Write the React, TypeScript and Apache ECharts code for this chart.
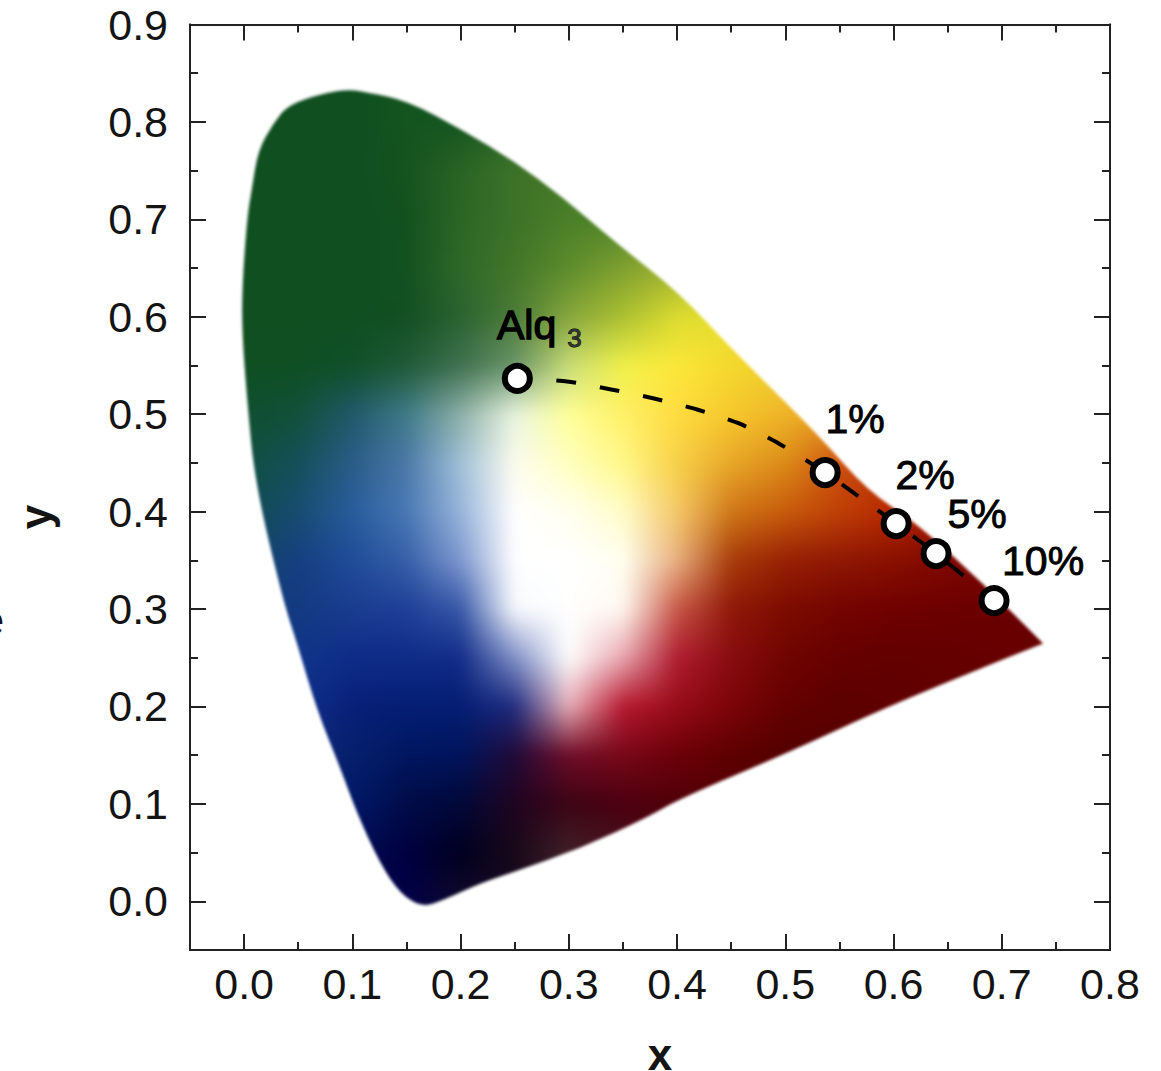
import React, { useEffect, useRef } from "react";
import * as echarts from "echarts";

const xTicks = [0, 0.1, 0.2, 0.3, 0.4, 0.5, 0.6, 0.7, 0.8];
const xMinorTicks = [0.05, 0.15, 0.25, 0.35, 0.45, 0.55, 0.65, 0.75];
const yTicks = [0, 0.1, 0.2, 0.3, 0.4, 0.5, 0.6, 0.7, 0.8, 0.9];
const yMinorTicks = [0.05, 0.15, 0.25, 0.35, 0.45, 0.55, 0.65, 0.75, 0.85];

// Markers
const pointNames = ["Alq3", "1%", "2%", "5%", "10%"];
const pointX = [0.2524, 0.5368, 0.6024, 0.6393, 0.6929];
const pointY = [0.5367, 0.4401, 0.3877, 0.3569, 0.3087];

// Dashed trend curve
const curveX = [0.2524, 0.2984, 0.3391, 0.3788, 0.4185, 0.4573, 0.4924, 0.5368, 0.6024, 0.6393, 0.6929];
const curveY = [0.5367, 0.5336, 0.5254, 0.5161, 0.5048, 0.4905, 0.471, 0.4401, 0.3877, 0.3569, 0.3087];

// Boundary of the colour region
const gamutX = [0.0915, 0.1136, 0.1506, 0.2024, 0.2486, 0.2947, 0.3409, 0.4028, 0.4518, 0.5294, 0.5756, 0.6218, 0.6827, 0.7382, 0.6984, 0.5904, 0.5072, 0.4028, 0.3723, 0.3104, 0.2485, 0.218, 0.1838, 0.1644, 0.1441, 0.1256, 0.1044, 0.0887, 0.0674, 0.049, 0.036, 0.0102, 0.0028, -0.0018, -0.0018, 0.0028, 0.0074, 0.0129, 0.0268, 0.0425];
const gamutY = [0.8344, 0.8303, 0.8221, 0.7913, 0.7605, 0.7225, 0.6783, 0.6239, 0.5654, 0.4802, 0.4217, 0.3878, 0.3262, 0.2646, 0.2471, 0.1978, 0.1547, 0.1054, 0.0859, 0.0541, 0.0295, 0.0182, 0.0007, -0.0064, 0.0079, 0.0387, 0.09, 0.1373, 0.1958, 0.2646, 0.3087, 0.4288, 0.514, 0.5828, 0.6301, 0.702, 0.7328, 0.7708, 0.7985, 0.82];
const gamutTipIndex = 13;

// Colours, one row per y, one column per x; "-" lies outside the region.
const colourX = [0, 0.05, 0.1, 0.15, 0.2, 0.25, 0.3, 0.35, 0.4, 0.45, 0.5, 0.55, 0.6, 0.65, 0.7, 0.75];
const colourY = [0.8, 0.75, 0.7, 0.65, 0.6, 0.55, 0.5, 0.45, 0.4, 0.35, 0.3, 0.25, 0.2, 0.15, 0.1, 0.05, 0];
const colourRows = [
  "#0f4f20 #0f4f20 #0f4f20 #14541f #155520 - - - - - - - - - - -",
  "#0f4f20 #0f4f20 #0f4f20 #15531f #2a6424 #3d7228 - - - - - - - - - -",
  "#0f4f20 #0f4f20 #0f4f20 #12511f #2c6626 #3c7228 #4b7f28 #4f8428 - - - - - - - -",
  "#0f4f20 #0f4f20 #0f4f20 #125120 #2e6828 #427628 #5d8c2c #7fa030 #a0b030 - - - - - - -",
  "#0f4f20 #0f4f20 #0f4f20 #124f22 #2a6230 #4c7c38 #86a63c #acc030 #dcdc30 #e8e030 - - - - - -",
  "#0f4f22 #0f4f22 #10502a #1f5a38 #3f7050 #6a9568 #c8dc78 #f0f048 #fce838 #f4d82c #eccf30 - - - - -",
  "#0f4f30 #12503a #20586a #3f7a88 #8db0a8 #e8f4e0 #ffff98 #fff068 #fedc40 #f6c82c #eeb428 #e8a020 - - - -",
  "#104f40 #144f5a #2a5c88 #4a78a8 #a0c0d8 #fcfcee #ffffc0 #fff888 #f8d048 #e8a828 #dc8c18 #cc5010 #b83808 - - -",
  "#104a50 #174c70 #285c9c #4878b4 #98b4da #ffffff #fffff0 #fffcc8 #f4c868 #d07818 #c85c0c #c04006 #b82800 #a01800 - -",
  "- #153f80 #1f4c98 #3660a8 #7e98d0 #ffffff #ffffff #fffff0 #e8b080 #a83c08 #982004 #901804 #8a1000 #800800 #780400 -",
  "- #133a80 #1a3c90 #1f3f98 #3858a8 #f8fafe #ffffff #fff8f0 #c85848 #901808 #7c0c00 #740400 #700000 #6c0000 #6a0000 #6a0000",
  "- #103488 #0e2c88 #0f2c88 #122c88 #8090c8 #ffffff #e8a8b0 #b01c30 #880c10 #700400 #660000 #620000 #640000 - -",
  "- #10308a #081f78 #041e74 #041e74 #202c80 #e8b0b8 #b81830 #980c18 #7c0408 #640000 #5c0000 #600000 - - -",
  "- - #06206c #001660 #00145c #200a38 #700c28 #780818 #6c0008 #5c0000 #540000 - - - - -",
  "- - #001868 #000c48 #000838 #200420 #3c0414 #4c0010 #500008 - - - - - - -",
  "- - - #000040 #000020 #180818 #402028 - - - - - - - - -",
  "- - - #000048 #10082a - - - - - - - - - - -",
];

const imageExtent = [-0.05, 0.8, -0.05, 0.9];
const labelOffsets: [number, number][] = [[22, -53], [30, -54], [29, -49], [41, -40], [49, -40]];
const FONT = "Liberation Sans";
const INK = "#141414";

function colourTable(): number[][][] {
  const rows = colourRows.map((r) =>
    r.split(" ").map((c) => (c === "-" ? null : [parseInt(c.slice(1, 3), 16), parseInt(c.slice(3, 5), 16), parseInt(c.slice(5, 7), 16)]))
  );
  // Cells outside the region take the mean of their known neighbours, so edges keep their colour.
  let open = true;
  while (open) {
    open = false;
    const snapshot = rows.map((r) => r.slice());
    for (let j = 0; j < rows.length; j++) {
      for (let i = 0; i < rows[j].length; i++) {
        if (snapshot[j][i]) continue;
        const near: number[][] = [];
        for (const [dj, di] of [[0, 1], [0, -1], [1, 0], [-1, 0]]) {
          const c = snapshot[j + dj]?.[i + di];
          if (c) near.push(c);
        }
        if (near.length) {
          rows[j][i] = [0, 1, 2].map((k) => near.reduce((s, c) => s + c[k], 0) / near.length);
        } else {
          open = true;
        }
      }
    }
  }
  return rows as number[][][];
}

function makeGamutImage(): string {
  const W = 920;
  const H = 925;
  const scale = 2;
  const w = Math.round(W / scale);
  const h = Math.round(H / scale);
  const [x0, x1, y0, y1] = imageExtent;
  const toPx = (x: number) => ((x - x0) / (x1 - x0)) * W;
  const toPy = (y: number) => ((y1 - y) / (y1 - y0)) * H;
  const table = colourTable();
  const dx = colourX[1] - colourX[0];
  const dy = colourY[0] - colourY[1];
  const small = document.createElement("canvas");
  small.width = w;
  small.height = h;
  const sctx = small.getContext("2d")!;
  const img = sctx.createImageData(w, h);
  const clampI = (v: number, n: number) => Math.max(0, Math.min(n - 1, v));
  for (let j = 0; j < h; j++) {
    const y = y1 - ((j + 0.5) / h) * (y1 - y0);
    const fy = Math.max(0, Math.min(colourY.length - 1.001, (colourY[0] - y) / dy));
    const jy = Math.floor(fy);
    const ty = fy - jy;
    for (let i = 0; i < w; i++) {
      const x = x0 + ((i + 0.5) / w) * (x1 - x0);
      const fx = Math.max(0, Math.min(colourX.length - 1.001, (x - colourX[0]) / dx));
      const ix = Math.floor(fx);
      const tx = fx - ix;
      const k = (j * w + i) * 4;
      for (let c = 0; c < 3; c++) {
        const a = table[jy][ix][c] * (1 - tx) + table[jy][clampI(ix + 1, colourX.length)][c] * tx;
        const b = table[jy + 1][ix][c] * (1 - tx) + table[jy + 1][clampI(ix + 1, colourX.length)][c] * tx;
        img.data[k + c] = a * (1 - ty) + b * ty;
      }
      img.data[k + 3] = 255;
    }
  }
  sctx.putImageData(img, 0, 0);
  const out = document.createElement("canvas");
  out.width = W;
  out.height = H;
  const ctx = out.getContext("2d")!;
  ctx.imageSmoothingEnabled = true;
  ctx.imageSmoothingQuality = "high";
  ctx.filter = "blur(7px)";
  ctx.drawImage(small, 0, 0, W, H);
  ctx.globalCompositeOperation = "destination-in";
  ctx.filter = "blur(1.8px)";
  const n = gamutX.length;
  const px = (i: number) => toPx(gamutX[(i + n) % n]);
  const py = (i: number) => toPy(gamutY[(i + n) % n]);
  ctx.beginPath();
  ctx.moveTo((px(0) + px(n - 1)) / 2, (py(0) + py(n - 1)) / 2);
  for (let i = 0; i < n; i++) {
    const mx = (px(i) + px(i + 1)) / 2;
    const my = (py(i) + py(i + 1)) / 2;
    if (i === gamutTipIndex) {
      ctx.lineTo(px(i), py(i));
      ctx.lineTo(mx, my);
    } else {
      ctx.quadraticCurveTo(px(i), py(i), mx, my);
    }
  }
  ctx.closePath();
  ctx.fill();
  return out.toDataURL("image/png");
}

function App() {
  const ref = useRef<HTMLDivElement>(null);
  useEffect(() => {
    const chart = echarts.init(ref.current!, undefined, { renderer: "svg" });
    const gamutImage = makeGamutImage();
    const line = { show: true, onZero: false, lineStyle: { color: "#222", width: 2 } };
    const xAxisOf = (position: string, values: number[], len: number, labels: boolean) => ({
      type: "value", position, min: -0.05, max: 0.8, interval: 0.05, splitLine: { show: false },
      axisLine: line,
      axisTick: { show: true, inside: true, length: len, customValues: values, lineStyle: { color: "#222", width: 2 } },
      axisLabel: labels
        ? { show: true, customValues: xTicks, margin: 12, formatter: (v: number) => v.toFixed(1), fontFamily: FONT, fontSize: 43, color: INK }
        : { show: false },
    });
    const yAxisOf = (position: string, values: number[], len: number, labels: boolean) => ({
      type: "value", position, min: -0.05, max: 0.9, interval: 0.05, splitLine: { show: false },
      axisLine: line,
      axisTick: { show: true, inside: true, length: len, customValues: values, lineStyle: { color: "#222", width: 2 } },
      axisLabel: labels
        ? { show: true, customValues: yTicks, margin: 22, formatter: (v: number) => v.toFixed(1), fontFamily: FONT, fontSize: 43, color: INK }
        : { show: false },
    });
    chart.setOption({
      animation: false,
      backgroundColor: "#ffffff",
      grid: { left: 190, right: 51, top: 24.5, bottom: 121, containLabel: false },
      xAxis: [
        xAxisOf("bottom", xTicks, 16, true),
        xAxisOf("bottom", xMinorTicks, 8, false),
        xAxisOf("top", xTicks, 16, false),
        xAxisOf("top", xMinorTicks, 8, false),
      ],
      yAxis: [
        yAxisOf("left", yTicks, 16, true),
        yAxisOf("left", yMinorTicks, 8, false),
        yAxisOf("right", yTicks, 16, false),
        yAxisOf("right", yMinorTicks, 8, false),
      ],
      graphic: [
        { type: "text", x: 660, y: 1054, style: { text: "x", fontFamily: FONT, fontWeight: "bold", fontSize: 44, lineHeight: 30, fill: INK, textAlign: "center", textVerticalAlign: "middle" } },
        { type: "text", x: 35, y: 517, rotation: Math.PI / 2, style: { text: "y", fontFamily: FONT, fontWeight: "bold", fontSize: 44, fill: INK, textAlign: "center", textVerticalAlign: "middle" } },
        { type: "text", x: 4, y: 620, style: { text: "e", fontFamily: FONT, fontSize: 42, fill: INK, textAlign: "right", textVerticalAlign: "middle" } },
      ],
      series: [
        {
          type: "custom",
          z: 1,
          silent: true,
          data: [[imageExtent[0], imageExtent[3], imageExtent[1], imageExtent[2]]],
          encode: { x: [0, 2], y: [1, 3] },
          clip: false,
          renderItem: (_p: any, api: any) => {
            const a = api.coord([api.value(0), api.value(1)]);
            const b = api.coord([api.value(2), api.value(3)]);
            return { type: "image", style: { image: gamutImage, x: a[0], y: a[1], width: b[0] - a[0], height: b[1] - a[1] } };
          },
        },
        {
          type: "line",
          z: 3,
          data: curveX.map((x, i) => [x, curveY[i]]),
          showSymbol: false,
          symbol: "none",
          smooth: 0.2,
          lineStyle: { color: "#000", width: 4, type: [20, 24], dashOffset: 5 },
        },
        {
          type: "scatter",
          z: 4,
          symbol: "circle",
          symbolSize: 25,
          itemStyle: { color: "#fff", borderColor: "#000", borderWidth: 6, opacity: 1 },
          data: pointX.map((x, i) => ({
            value: [x, pointY[i]],
            name: pointNames[i],
            label: {
              show: true,
              position: "inside",
              offset: labelOffsets[i],
              formatter: i === 0 ? "{a|Alq}{b|3}" : pointNames[i],
              fontFamily: FONT,
              fontSize: 41,
              color: "#000",
              textBorderColor: "#000",
              textBorderWidth: 0.9,
              rich: {
                a: { fontFamily: FONT, fontSize: 41, color: "#000", textBorderColor: "#000", textBorderWidth: 1.4 },
                b: { fontFamily: FONT, fontSize: 26, color: "#333", padding: [26, 0, 0, 11] },
              },
            },
          })),
        },
        {
          type: "scatter",
          z: 4,
          symbolSize: 0,
          itemStyle: { opacity: 0 },
          data: [{
            value: [0.3113, 0.3374],
            label: { show: true, position: "inside", formatter: "WHITE", fontFamily: FONT, fontWeight: "bold", fontSize: 27, color: "#111" },
          }],
        },
      ],
    });
    return () => chart.dispose();
  }, []);
  return <div ref={ref} style={{ position: "absolute", left: 0, top: 0, width: 1161, height: 1071 }} />;
}

export default App;
